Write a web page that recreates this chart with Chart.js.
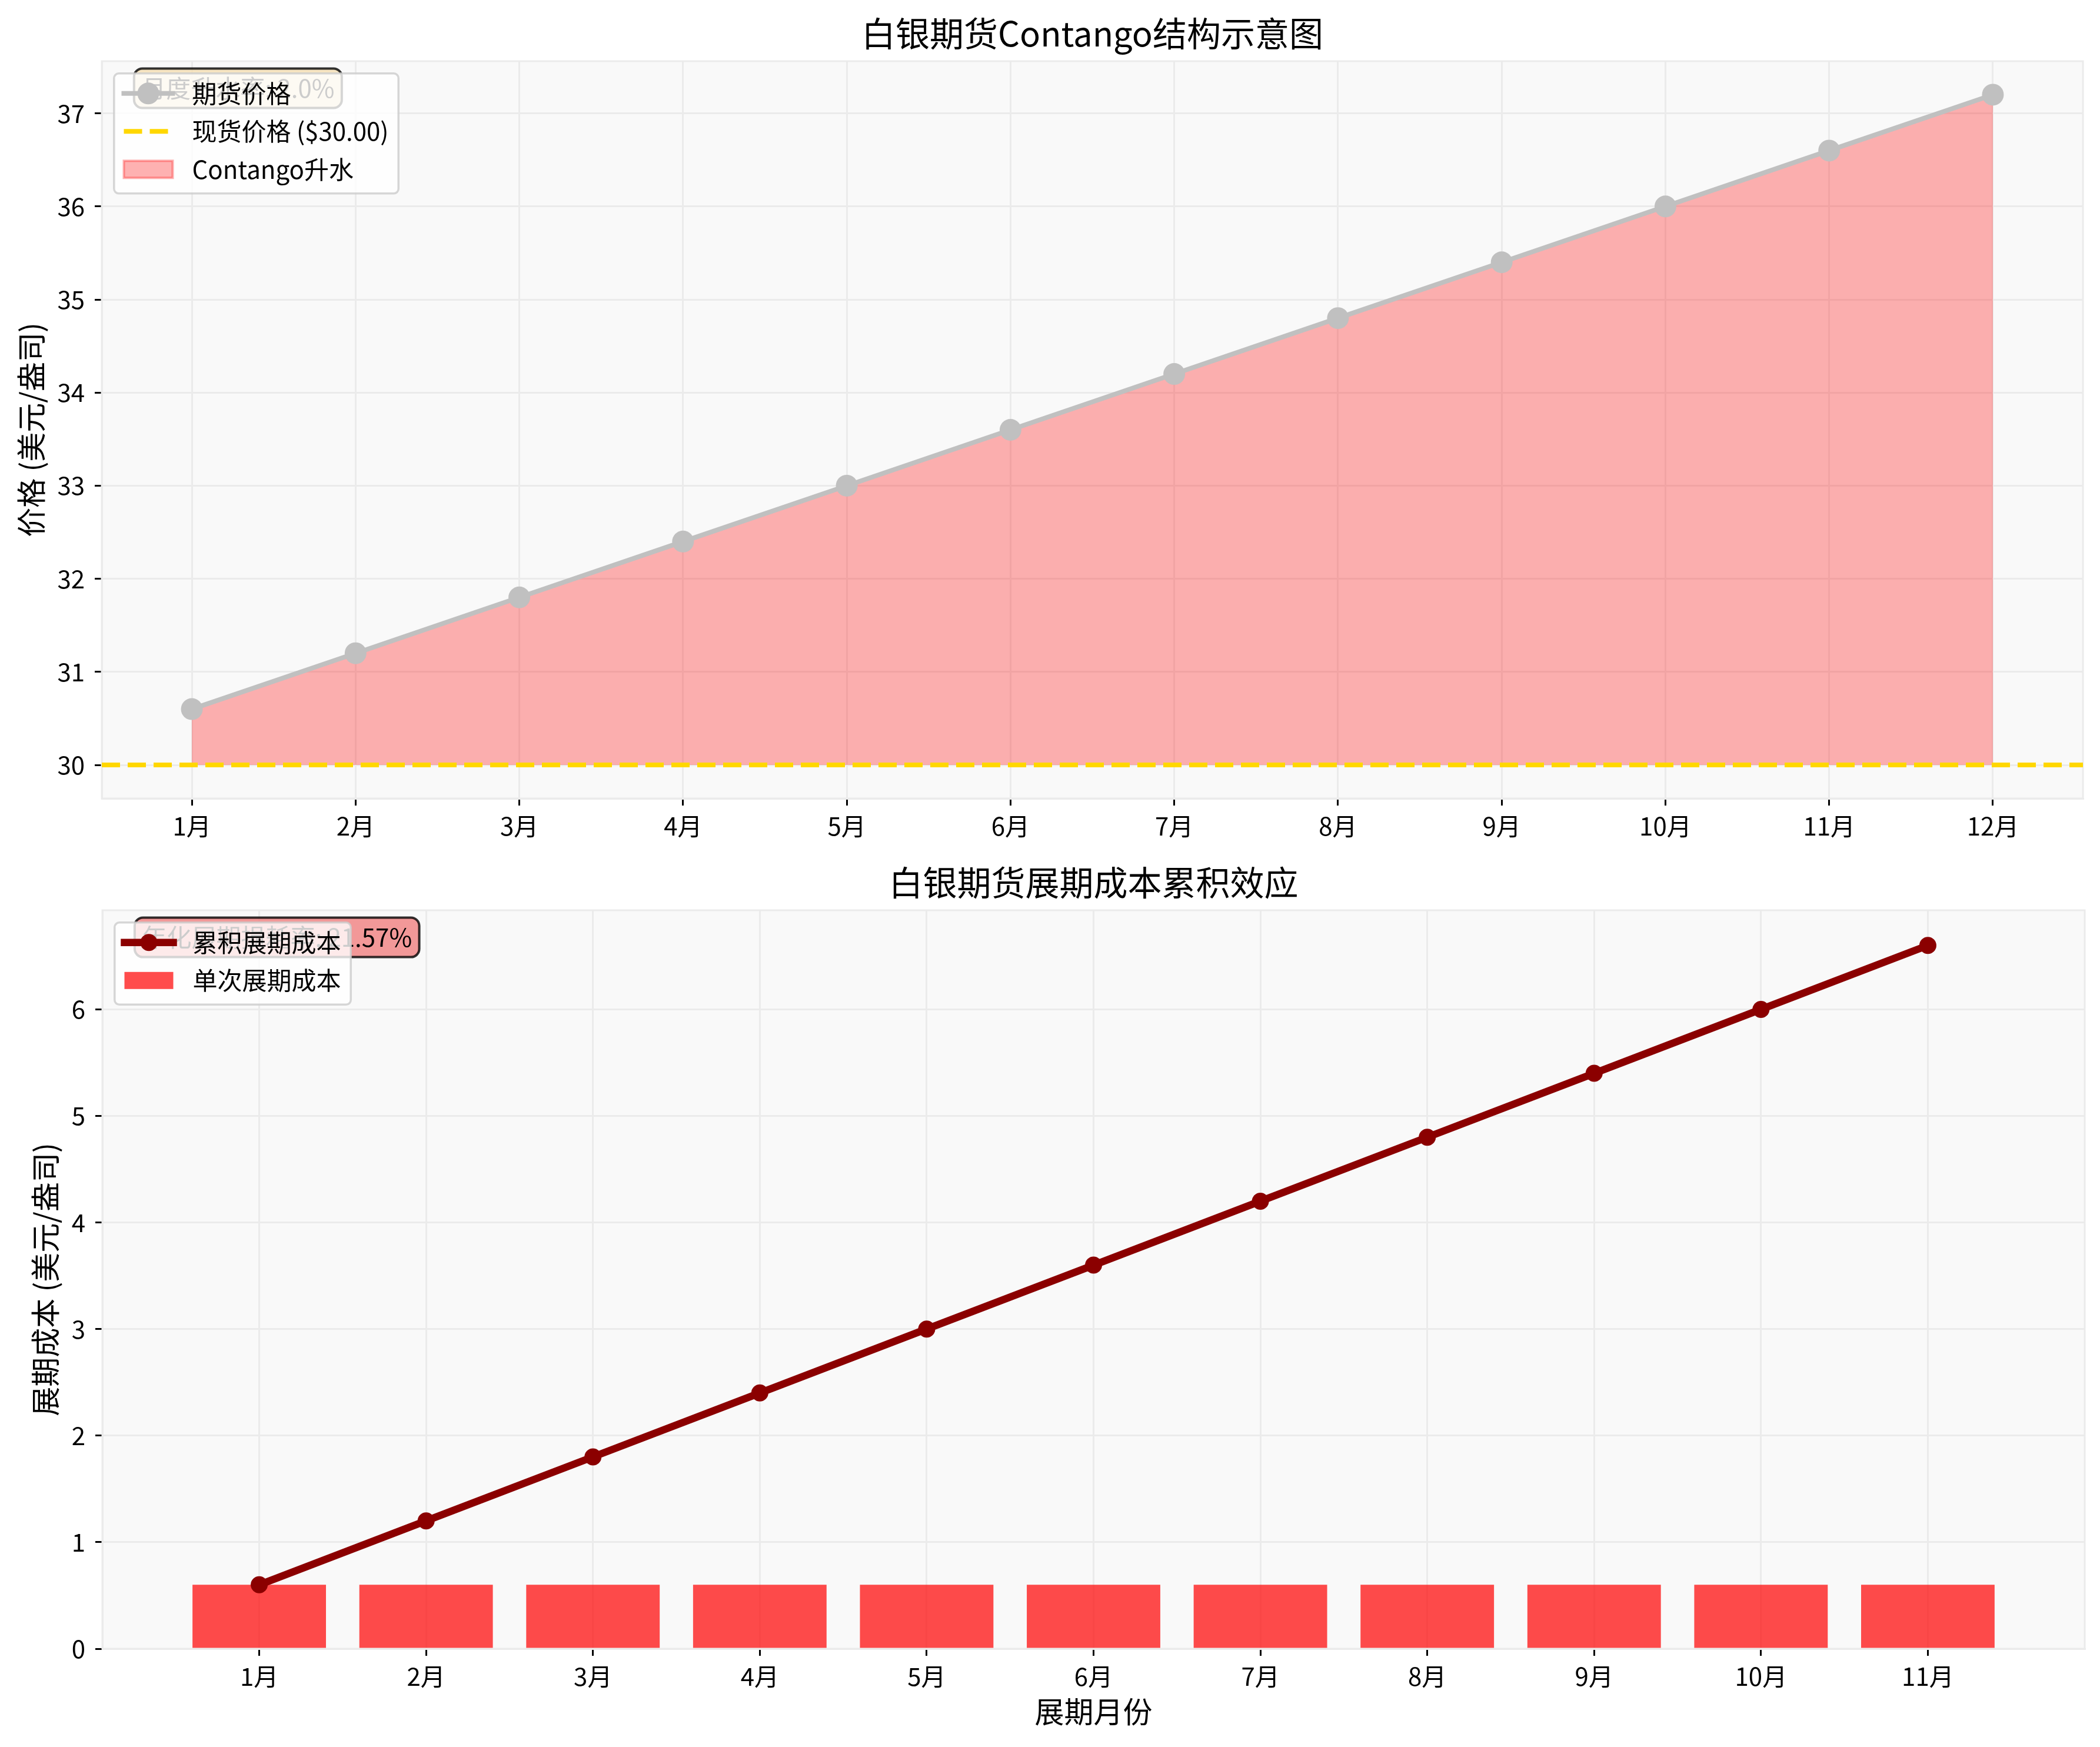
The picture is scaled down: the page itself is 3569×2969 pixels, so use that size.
<!DOCTYPE html>
<html>
<head>
<meta charset="utf-8">
<script src="https://cdn.jsdelivr.net/npm/chart.js@4.4.1/dist/chart.umd.min.js"></script>
<style>
html,body{margin:0;padding:0;background:#fff;}
#wrap{position:relative;width:3569px;height:2969px;overflow:hidden;background:#fff;}
canvas{position:absolute;left:0;}
</style>
</head>
<body>
<div id="wrap">
<canvas id="c1" width="3569" height="1440" style="top:0;width:3569px;height:1440px"></canvas>
<canvas id="c2" width="3569" height="1529" style="top:1440px;width:3569px;height:1529px"></canvas>
</div>
<script>
// ---------------- data ----------------
const months = ['1月','2月','3月','4月','5月','6月','7月','8月','9月','10月','11月','12月'];
const futuresPrices = [30.6, 31.2, 31.8, 32.4, 33.0, 33.6, 34.2, 34.8, 35.4, 36.0, 36.6, 37.2];
const spotPrice = 30.0;
const priceTicks = [30, 31, 32, 33, 34, 35, 36, 37];

const rollMonths = ['1月','2月','3月','4月','5月','6月','7月','8月','9月','10月','11月'];
const rollCostEach = [0.6, 0.6, 0.6, 0.6, 0.6, 0.6, 0.6, 0.6, 0.6, 0.6, 0.6];
const rollCostCum = [0.6, 1.2, 1.8, 2.4, 3.0, 3.6, 4.2, 4.8, 5.4, 6.0, 6.6];
const costTicks = [0, 1, 2, 3, 4, 5, 6];

// ---------------- derived texts ----------------
const monthlyRate = ((futuresPrices[0] / spotPrice - 1) * 100).toFixed(1);
const annualLoss = (rollCostCum[rollCostCum.length - 1] / futuresPrices[0] * 100).toFixed(2);

// ---------------- style ----------------
const FONT = "'Noto Sans CJK SC', 'Noto Sans', sans-serif";
Chart.defaults.font.family = FONT;
Chart.defaults.color = '#000';

const GRID = '#ebebeb';

function rr(ctx, x, y, w, h, r) {
  ctx.beginPath();
  ctx.moveTo(x + r, y);
  ctx.lineTo(x + w - r, y);
  ctx.arcTo(x + w, y, x + w, y + r, r);
  ctx.lineTo(x + w, y + h - r);
  ctx.arcTo(x + w, y + h, x + w - r, y + h, r);
  ctx.lineTo(x + r, y + h);
  ctx.arcTo(x, y + h, x, y + h - r, r);
  ctx.lineTo(x, y + r);
  ctx.arcTo(x, y, x + r, y, r);
  ctx.closePath();
}

const bgPlugin = {
  id: 'bg',
  beforeDraw(chart) {
    const {ctx, chartArea: a} = chart;
    ctx.save();
    ctx.fillStyle = '#fff';
    ctx.fillRect(0, 0, chart.width, chart.height);
    ctx.fillStyle = '#f9f9f9';
    ctx.fillRect(a.left, a.top, a.right - a.left, a.bottom - a.top);
    ctx.restore();
  },
  beforeDatasetsDraw(chart) {
    const {ctx, chartArea: a} = chart;
    ctx.save();
    ctx.strokeStyle = GRID;
    ctx.lineWidth = 3;
    ctx.strokeRect(a.left, a.top, a.right - a.left, a.bottom - a.top);
    ctx.restore();
  }
};

const overlayPlugin = {
  id: 'overlay',
  afterDraw(chart, args, opts) {
    if (!opts || !opts.note) return;
    const {ctx, chartArea: a} = chart;
    const W = a.right - a.left, H = a.bottom - a.top;
    const fs = 42;
    ctx.save();
    ctx.font = fs + 'px ' + FONT;
    ctx.textAlign = 'left';
    ctx.textBaseline = 'middle';
    // annotation box
    const tx = a.left + 0.02 * W, ty = a.top + 0.02 * H;
    const tw = ctx.measureText(opts.note).width;
    rr(ctx, tx - 12.5, ty - 12.5, tw + 25, fs + 25, 14);
    ctx.fillStyle = opts.noteFill;
    ctx.fill();
    ctx.lineWidth = 4;
    ctx.strokeStyle = 'rgba(0,0,0,0.8)';
    ctx.stroke();
    ctx.fillStyle = '#000';
    ctx.fillText(opts.note, tx, ty + 21);

    // legend
    const items = opts.items;
    const lx = a.left + 20.8, ly = a.top + 20.8;
    const maxW = Math.max.apply(null, items.map(it => ctx.measureText(it.label).width));
    const lw = 16.7 + 83 + 33 + maxW + 16.7;
    const lh = 34 + (items.length - 1) * 64.5 + 41;
    rr(ctx, lx, ly, lw, lh, 8);
    ctx.fillStyle = 'rgba(255,255,255,0.8)';
    ctx.fill();
    ctx.lineWidth = 3.5;
    ctx.strokeStyle = 'rgba(204,204,204,0.8)';
    ctx.stroke();

    items.forEach((it, i) => {
      const cy = ly + 34 + i * 64.5;
      const hx0 = lx + 16.7, hx1 = hx0 + 83, hc = (hx0 + hx1) / 2;
      ctx.save();
      if (it.kind === 'line') {
        ctx.strokeStyle = it.color;
        ctx.lineWidth = it.lw;
        ctx.lineCap = 'square';
        ctx.beginPath(); ctx.moveTo(hx0, cy); ctx.lineTo(hx1, cy); ctx.stroke();
        ctx.fillStyle = it.color;
        ctx.beginPath(); ctx.arc(hc, cy, it.r, 0, Math.PI * 2); ctx.fill();
      } else if (it.kind === 'dash') {
        ctx.strokeStyle = it.color;
        ctx.lineWidth = it.lw;
        ctx.setLineDash(it.dash);
        ctx.beginPath(); ctx.moveTo(hx0, cy); ctx.lineTo(hx1, cy); ctx.stroke();
      } else {
        ctx.fillStyle = it.fill;
        ctx.fillRect(hx0, cy - 14.5, 83, 29);
        if (it.stroke) {
          ctx.strokeStyle = it.stroke;
          ctx.lineWidth = 4;
          ctx.strokeRect(hx0, cy - 14.5, 83, 29);
        }
      }
      ctx.restore();
      ctx.fillStyle = '#000';
      ctx.fillText(it.label, hx1 + 33, cy);
    });
    ctx.restore();
  }
};

Chart.register(bgPlugin, overlayPlugin);

const tickFont = {size: 42};
const gridOpts = {color: GRID, lineWidth: 3, tickColor: '#000', tickLength: 12, tickWidth: 3, offset: false};
const borderOpts = {color: GRID, width: 3};

// ---------------- top chart ----------------
const X1MIN = -0.55, X1MAX = months.length - 1 + 0.55;
new Chart(document.getElementById('c1'), {
  type: 'line',
  data: {
    datasets: [
      {
        label: '期货价格',
        data: futuresPrices.map((y, i) => ({x: i, y})),
        borderColor: '#C0C0C0', borderWidth: 8, tension: 0,
        pointRadius: 18.5, pointHoverRadius: 18.5, pointBackgroundColor: '#C0C0C0', pointBorderWidth: 0,
        fill: false, order: 1
      },
      {
        label: '现货价格 ($' + spotPrice.toFixed(2) + ')',
        data: [{x: X1MIN, y: spotPrice}, {x: X1MAX, y: spotPrice}],
        borderColor: '#FFD700', borderWidth: 8, borderDash: [31, 13],
        pointRadius: 0, pointHoverRadius: 0, fill: false, order: 0
      },
      {
        label: 'Contango升水',
        data: futuresPrices.map((y, i) => ({x: i, y})),
        borderColor: 'rgba(255,0,0,0.3)', borderWidth: 3, tension: 0,
        backgroundColor: 'rgba(255,0,0,0.3)',
        pointRadius: 0, pointHoverRadius: 0,
        fill: {value: spotPrice}, order: 2
      }
    ]
  },
  options: {
    responsive: false, animation: false, devicePixelRatio: 1,
    events: [],
    layout: {padding: {left: 0, right: 29, top: 0, bottom: 0}},
    plugins: {
      legend: {display: false},
      tooltip: {enabled: false},
      title: {
        display: true, text: '白银期货Contango结构示意图', fullSize: false,
        font: {size: 58, weight: 'normal'}, color: '#000',
        padding: {top: 22, bottom: 12.4}
      },
      overlay: {
        note: '月度升水率: ' + monthlyRate + '%',
        noteFill: 'rgba(245,222,179,0.8)',
        items: [
          {kind: 'line', color: '#C0C0C0', lw: 8, r: 18.5, label: '期货价格'},
          {kind: 'dash', color: '#FFD700', lw: 8, dash: [31, 13], label: '现货价格 ($' + spotPrice.toFixed(2) + ')'},
          {kind: 'patch', fill: 'rgba(255,0,0,0.3)', stroke: 'rgba(255,0,0,0.3)', label: 'Contango升水'}
        ]
      }
    },
    scales: {
      x: {
        type: 'linear', min: X1MIN, max: X1MAX, offset: false,
        afterFit(s) { s.height = 83; },
        afterBuildTicks(s) { s.ticks = months.map((_, i) => ({value: i})); },
        ticks: {callback: v => months[v] !== undefined ? months[v] : '', font: tickFont, color: '#000', padding: 10, autoSkip: false, maxRotation: 0},
        grid: gridOpts, border: borderOpts
      },
      y: {
        type: 'linear', min: 29.64, max: 37.56,
        afterFit(s) { s.width = 173; },
        afterBuildTicks(s) { s.ticks = priceTicks.map(v => ({value: v})); },
        ticks: {callback: v => String(v), font: tickFont, color: '#000', padding: 17},
        grid: gridOpts, border: borderOpts,
        title: {display: true, text: '价格 (美元/盎司)', font: {size: 50}, color: '#000', padding: {top: 23, bottom: 0}}
      }
    }
  }
});

// ---------------- bottom chart ----------------
const X2MIN = -0.94, X2MAX = rollMonths.length - 1 + 0.94;
new Chart(document.getElementById('c2'), {
  type: 'bar',
  data: {
    datasets: [
      {
        type: 'line',
        label: '累积展期成本',
        data: rollCostCum.map((y, i) => ({x: i, y})),
        borderColor: '#8B0000', borderWidth: 12.5, tension: 0,
        pointRadius: 14.5, pointHoverRadius: 14.5, pointBackgroundColor: '#8B0000', pointBorderWidth: 0,
        fill: false, order: 0
      },
      {
        type: 'bar',
        label: '单次展期成本',
        data: rollCostEach.map((y, i) => ({x: i, y})),
        backgroundColor: 'rgba(255,0,0,0.7)', borderWidth: 0,
        barPercentage: 0.8, categoryPercentage: 1.0, order: 1
      }
    ]
  },
  options: {
    responsive: false, animation: false, devicePixelRatio: 1,
    events: [],
    layout: {padding: {left: 0, right: 26, top: 0, bottom: 0}},
    plugins: {
      legend: {display: false},
      tooltip: {enabled: false},
      title: {
        display: true, text: '白银期货展期成本累积效应', fullSize: false,
        font: {size: 58, weight: 'normal'}, color: '#000',
        padding: {top: 25.2, bottom: 12.2}
      },
      overlay: {
        note: '年化展期损耗率: ' + annualLoss + '%',
        noteFill: 'rgba(240,128,128,0.8)',
        items: [
          {kind: 'line', color: '#8B0000', lw: 12.5, r: 14.5, label: '累积展期成本'},
          {kind: 'patch', fill: 'rgba(255,0,0,0.7)', label: '单次展期成本'}
        ]
      }
    },
    scales: {
      x: {
        type: 'linear', min: X2MIN, max: X2MAX, offset: false,
        afterFit(s) { s.height = 167; },
        afterBuildTicks(s) { s.ticks = rollMonths.map((_, i) => ({value: i})); },
        ticks: {callback: v => rollMonths[v] !== undefined ? rollMonths[v] : '', font: tickFont, color: '#000', padding: 10, autoSkip: false, maxRotation: 0},
        grid: gridOpts, border: borderOpts,
        title: {display: true, text: '展期月份', font: {size: 50}, color: '#000', padding: {top: 0, bottom: 30}}
      },
      y: {
        type: 'linear', min: 0, max: 6.93,
        afterFit(s) { s.width = 174; },
        afterBuildTicks(s) { s.ticks = costTicks.map(v => ({value: v})); },
        ticks: {callback: v => String(v), font: tickFont, color: '#000', padding: 17},
        grid: gridOpts, border: borderOpts,
        title: {display: true, text: '展期成本 (美元/盎司)', font: {size: 50}, color: '#000', padding: {top: 47, bottom: 0}}
      }
    }
  }
});
</script>
</body>
</html>
